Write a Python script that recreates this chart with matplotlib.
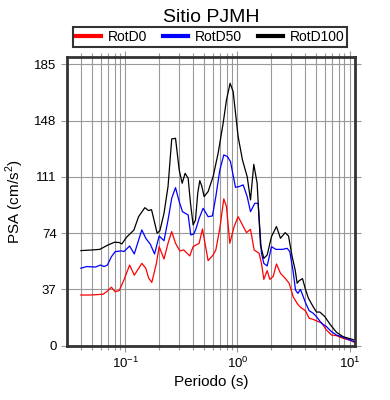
import numpy as np
import matplotlib
matplotlib.use('Agg')
import matplotlib.pyplot as plt

# Periods (s) and PSA (cm/s^2)
t_d100 = [0.040, 0.050, 0.059, 0.070, 0.080, 0.088, 0.093, 0.102, 0.119, 0.131,
          0.149, 0.161, 0.171, 0.192, 0.203, 0.221, 0.240, 0.259, 0.280, 0.302,
          0.321, 0.341, 0.363, 0.381, 0.402, 0.422, 0.442, 0.461, 0.480, 0.504,
          0.547, 0.606, 0.672, 0.745, 0.798, 0.860, 0.915, 1.014, 1.108, 1.221,
          1.307, 1.399, 1.498, 1.605, 1.719, 1.841, 2.012, 2.229, 2.420, 2.665,
          2.855, 3.077, 3.273, 3.410, 3.553, 3.805, 4.047, 4.304, 4.740, 5.075,
          5.434, 6.025, 6.770, 7.655, 8.780, 10.07, 11.16]
psa_d100 = [62.5, 62.9, 63.3, 66.2, 68.0, 67.8, 66.9, 71.2, 76.0, 84.8,
            90.7, 88.8, 89.4, 73.9, 75.6, 87.0, 104.6, 135.9, 136.3, 115.5,
            106.8, 113.3, 110.0, 93.6, 79.4, 82.6, 100.2, 108.5, 105.0, 98.0,
            101.3, 111.1, 126.5, 146.2, 161.6, 172.5, 167.0, 137.4, 122.1, 111.1,
            95.8, 119.2, 106.8, 66.2, 57.4, 59.6, 71.7, 78.3, 70.6, 74.3,
            72.1, 58.5, 49.8, 41.0, 42.7, 44.1, 37.0, 31.1, 25.6, 22.1,
            22.1, 19.1, 13.6, 8.8, 5.9, 4.6, 3.7]

t_d50 = [0.040, 0.045, 0.054, 0.060, 0.0645, 0.069, 0.075, 0.081, 0.092, 0.097,
         0.109, 0.120, 0.140, 0.152, 0.167, 0.182, 0.200, 0.221, 0.240, 0.259,
         0.280, 0.302, 0.323, 0.363, 0.383, 0.408, 0.428, 0.455, 0.494, 0.547,
         0.598, 0.641, 0.696, 0.755, 0.814, 0.866, 0.960, 1.035, 1.124, 1.221,
         1.307, 1.428, 1.529, 1.638, 1.719, 1.841, 2.012, 2.199, 2.522, 2.777,
         2.934, 3.141, 3.296, 3.457, 3.652, 4.047, 4.364, 4.740, 5.075, 5.623,
         6.232, 6.910, 7.655, 8.780, 10.07, 11.16]
psa_d50 = [50.9, 52.0, 51.7, 53.0, 52.0, 53.0, 58.5, 61.8, 62.3, 61.9,
           65.5, 60.3, 76.1, 70.6, 66.6, 60.3, 72.1, 69.0, 82.6, 96.9,
           103.9, 94.7, 88.1, 85.9, 72.8, 73.4, 77.2, 83.7, 90.3, 84.8,
           85.3, 98.0, 115.5, 125.4, 124.3, 121.0, 104.1, 104.6, 105.7, 98.0,
           88.1, 93.6, 93.6, 60.7, 54.1, 52.4, 65.1, 63.3, 63.3, 64.0,
           61.8, 48.7, 36.6, 34.4, 37.0, 28.3, 23.0, 21.3, 19.1, 14.7,
           12.5, 9.2, 7.0, 5.5, 3.7, 2.6]

t_d0 = [0.040, 0.048, 0.063, 0.068, 0.075, 0.081, 0.088, 0.097, 0.109, 0.120,
        0.140, 0.152, 0.161, 0.172, 0.189, 0.200, 0.221, 0.240, 0.259, 0.280,
        0.306, 0.332, 0.375, 0.402, 0.455, 0.487, 0.547, 0.606, 0.641, 0.696,
        0.755, 0.798, 0.854, 0.934, 1.014, 1.108, 1.204, 1.307, 1.409, 1.561,
        1.638, 1.719, 1.841, 1.945, 2.082, 2.229, 2.420, 2.665, 2.894, 3.141,
        3.410, 3.652, 4.047, 4.364, 4.740, 5.251, 5.623, 6.232, 6.910, 7.655,
        8.780, 10.07, 11.16]
psa_d0 = [33.3, 33.3, 33.8, 35.5, 38.4, 35.5, 36.2, 43.2, 53.0, 46.3,
          54.1, 50.9, 44.5, 41.6, 54.1, 65.1, 57.0, 67.3, 75.0, 67.3,
          62.3, 62.9, 59.0, 65.1, 67.3, 76.7, 55.9, 59.6, 62.9, 77.2,
          96.5, 91.4, 67.3, 78.3, 84.8, 79.4, 74.3, 76.5, 62.9, 60.7,
          54.1, 43.6, 49.3, 43.6, 45.4, 53.7, 47.6, 44.3, 41.0, 32.2,
          27.8, 25.2, 23.0, 18.0, 17.3, 15.8, 15.1, 10.3, 7.0, 6.6,
          4.8, 3.7, 2.0]

y_ticks = [0, 37, 74, 111, 148, 185]

plt.rcParams['font.family'] = ['Liberation Sans', 'DejaVu Sans']
plt.rcParams['mathtext.fontset'] = 'custom'
plt.rcParams['mathtext.rm'] = 'Liberation Sans'

fig = plt.figure(figsize=(3.9, 4.0), dpi=100)
ax = fig.add_axes([0.1718, 0.1358, 0.7385, 0.7215])

ax.plot(t_d0, psa_d0, color='red', lw=0.9, label='RotD0')
ax.plot(t_d50, psa_d50, color='blue', lw=0.9, label='RotD50')
ax.plot(t_d100, psa_d100, color='black', lw=0.9, label='RotD100')

ax.set_xscale('log')
ax.set_xlim(0.0301, 11.2)
ax.set_ylim(0, 189.7)
ax.set_yticks(y_ticks)

ax.grid(True, which='major', color='#999999', lw=0.8)
ax.grid(True, which='minor', axis='x', color='#999999', lw=0.8)
ax.set_axisbelow(True)

ax.tick_params(which='both', direction='out', color='#999999', top=True, right=True,
               labelsize=9.5, labelcolor='black')
ax.tick_params(which='major', length=4, width=0.8)
ax.tick_params(which='minor', length=3, width=0.8)
for s in ax.spines.values():
    s.set_linewidth(2)
    s.set_color('#333333')

ax.set_xlabel('Periodo (s)', fontsize=11, labelpad=3)
ax.set_ylabel('PSA (cm/s$^2$)', fontsize=11, labelpad=6)
fig.text(0.541, 0.955, 'Sitio PJMH', fontsize=14, ha='center', va='center')

leg = fig.legend(loc='lower left', ncol=3, mode='expand',
                 bbox_to_anchor=(73 / 390, 1 - 47 / 400, 274 / 390, 19 / 400),
                 fancybox=False, edgecolor='black', fontsize=10,
                 handlelength=1.8, handletextpad=0.5, borderpad=0.2,
                 columnspacing=1.0, borderaxespad=0)
leg.get_frame().set_linewidth(1.5)
for h in leg.get_lines():
    h.set_linewidth(3)

fig.savefig('out.png', dpi=100)
